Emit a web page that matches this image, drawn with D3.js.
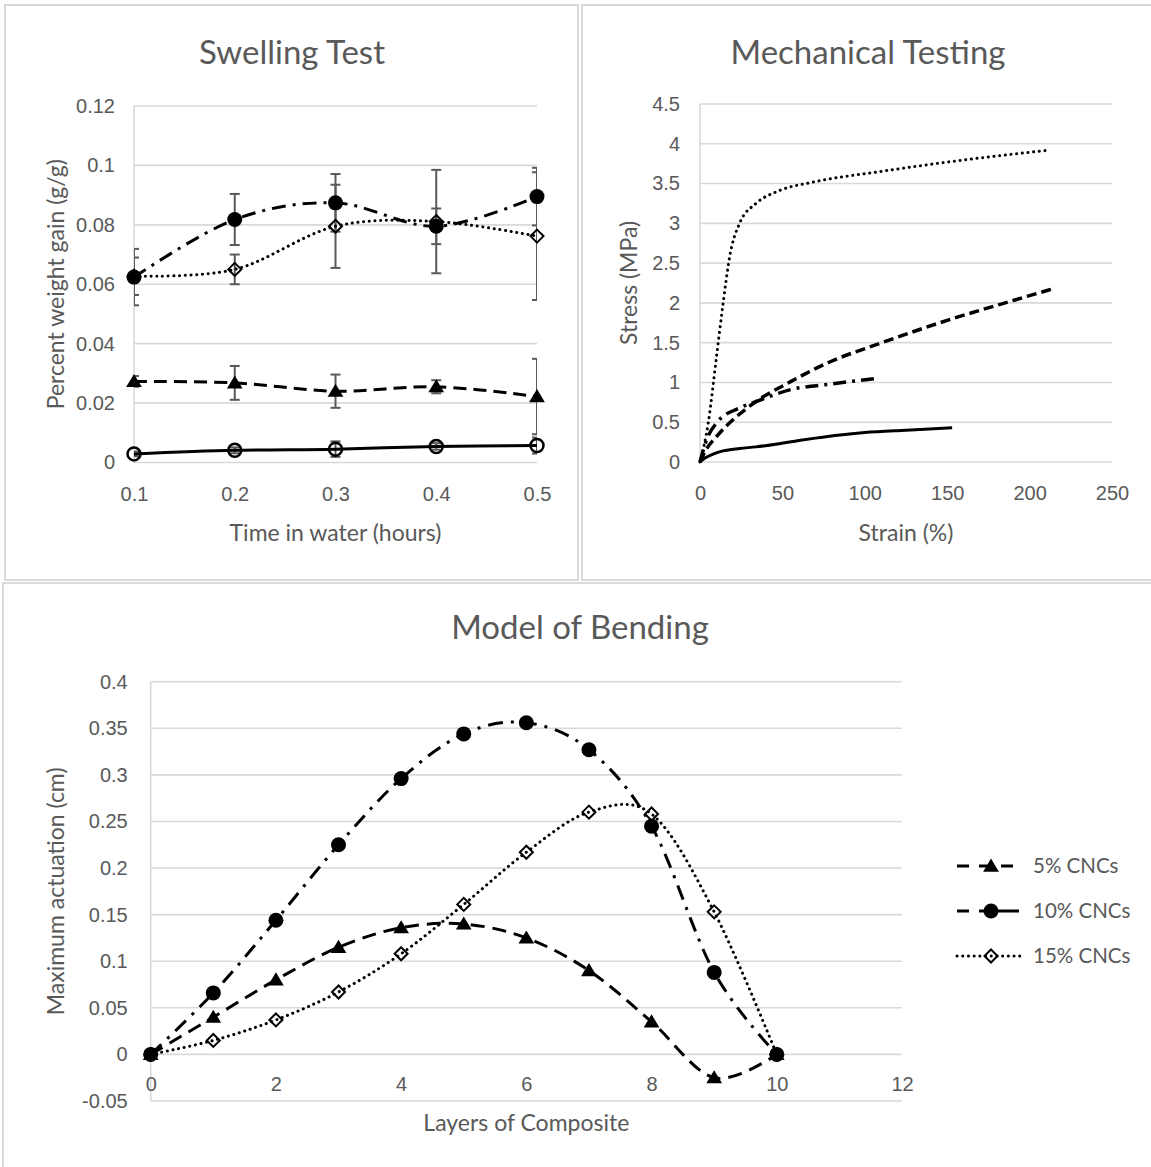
<html>
<head>
  <meta charset="UTF-8">
  <title>Swelling, Mechanical Testing, Model of Bending</title>
  <style>
    body { margin: 0; padding: 0; background: #fff; }
    svg { display: block; font-family: Lato, "Open Sans", sans-serif; }
    .tick-label { fill: #595959; font-size: 20px; }
    .axis-title { fill: #595959; font-size: 23px; }
    .chart-title { fill: #595959; font-size: 33px; }
    .legend-label { fill: #595959; font-size: 20.5px; }
  </style>
</head>
<body>
  <script src="https://cdnjs.cloudflare.com/ajax/libs/d3/7.8.4/d3.min.js"></script>
  <script>
    // ---- data: swelling test ----
    const swellTime = [0.1, 0.2, 0.3, 0.4, 0.5];
    const swellCircle = [0.0624, 0.0818, 0.0874, 0.0795, 0.0895];
    const swellCircleErr = [0.0095, 0.0086, 0.0097, 0.006, 0.0097];
    const swellDiamond = [0.0627, 0.065, 0.0795, 0.0811, 0.0762];
    const swellDiamondErr = [0.0063, 0.005, 0.014, 0.0174, 0.0215];
    const swellTriangle = [0.0273, 0.0268, 0.024, 0.0255, 0.0222];
    const swellTriangleErr = [0.0018, 0.0057, 0.0056, 0.0022, 0.0127];
    const swellOpen = [0.0029, 0.0041, 0.0045, 0.0054, 0.0057];
    const swellOpenErr = [0.0008, 0.001, 0.0026, 0.0011, 0.0027];
    const swellXTicks = [0.1, 0.2, 0.3, 0.4, 0.5];
    const swellYTicks = [0, 0.02, 0.04, 0.06, 0.08, 0.1, 0.12];

    // ---- data: mechanical testing (strain %, stress MPa) ----
    const mechDotted = [[0, 0], [5, 0.49], [10, 1.32], [14, 1.99], [18, 2.58], [24, 3.0], [34, 3.25],
      [48, 3.41], [69, 3.52], [109, 3.65], [150, 3.77], [190, 3.87], [212, 3.92]];
    const mechDashed = [[0, 0], [3, 0.13], [10, 0.32], [20, 0.53], [34, 0.76], [55, 1.01], [79, 1.26],
      [109, 1.49], [150, 1.78], [190, 2.03], [213, 2.17]];
    const mechDashDot = [[0, 0], [4, 0.28], [10, 0.49], [24, 0.68], [34, 0.76], [55, 0.91], [79, 0.98], [107, 1.05]];
    const mechSolid = [[0, 0], [3, 0.05], [8, 0.1], [14, 0.14], [24, 0.17], [34, 0.19], [48, 0.23], [60, 0.27],
      [70, 0.3], [85, 0.34], [100, 0.37], [125, 0.4], [153, 0.43]];
    const mechXTicks = [0, 50, 100, 150, 200, 250];
    const mechYTicks = [0, 0.5, 1, 1.5, 2, 2.5, 3, 3.5, 4, 4.5];

    // ---- data: model of bending ----
    const layers = [0, 1, 2, 3, 4, 5, 6, 7, 8, 9, 10];
    const bend5 = [0, 0.04, 0.08, 0.115, 0.136, 0.14, 0.125, 0.09, 0.035, -0.025, 0];
    const bend10 = [0, 0.066, 0.144, 0.225, 0.296, 0.344, 0.356, 0.327, 0.245, 0.088, 0];
    const bend15 = [0, 0.015, 0.037, 0.067, 0.108, 0.161, 0.217, 0.26, 0.258, 0.153, 0];
    const bendNames = ["5% CNCs", "10% CNCs", "15% CNCs"];
    const bendXTicks = [0, 2, 4, 6, 8, 10, 12];
    const bendYTicks = [-0.05, 0, 0.05, 0.1, 0.15, 0.2, 0.25, 0.3, 0.35, 0.4];

    const gridColor = "#d9d9d9";
    const textColor = "#595959";
    const dotted = "0.1 5.6";

    const svg = d3.select("body").append("svg")
      .attr("width", 1151)
      .attr("height", 1167);

    // panel borders
    [[5, 5, 573, 575], [582, 5, 572, 575], [3, 583, 1150, 590]].forEach(b => {
      svg.append("rect")
        .attr("x", b[0]).attr("y", b[1]).attr("width", b[2]).attr("height", b[3])
        .attr("fill", "none").attr("stroke", gridColor).attr("stroke-width", 2);
    });

    function triangle(s) {
      return `M0,${-s} L${s * 1.05},${s * 0.75} L${-s * 1.05},${s * 0.75}Z`;
    }
    function diamond(s) {
      return `M0,${-s} L${s},0 L0,${s} L${-s},0Z`;
    }

    // common frame: gridlines, axes, tick labels, titles
    function frame(cfg) {
      const g = svg.append("g");
      const x = cfg.x, y = cfg.y;
      const [x0, x1] = x.range();
      g.selectAll("line.grid")
        .data(cfg.yTicks)
        .enter().append("line")
        .attr("class", "grid")
        .attr("x1", x0).attr("x2", x1)
        .attr("y1", d => y(d)).attr("y2", d => y(d))
        .attr("stroke", gridColor).attr("stroke-width", 1.6);
      g.append("line")
        .attr("x1", x0).attr("x2", x0)
        .attr("y1", y.range()[0]).attr("y2", y.range()[1])
        .attr("stroke", gridColor).attr("stroke-width", 1.6);

      const yAxis = d3.axisLeft(y).tickValues(cfg.yTicks).tickSize(0).tickPadding(cfg.yPad)
        .tickFormat(cfg.yFormat || (d => d));
      const ya = g.append("g").attr("transform", `translate(${x0},0)`).call(yAxis);
      ya.select(".domain").remove();
      ya.selectAll("text").attr("class", "tick-label").attr("font-family", null).attr("font-size", null);

      const xAxis = d3.axisBottom(x).tickValues(cfg.xTicks).tickSize(0).tickPadding(cfg.xPad)
        .tickFormat(d => d);
      const xa = g.append("g").attr("transform", `translate(0,${cfg.xAxisY})`).call(xAxis);
      xa.select(".domain").remove();
      xa.selectAll("text").attr("class", "tick-label").attr("font-family", null).attr("font-size", null);

      svg.append("text").attr("class", "chart-title")
        .attr("x", cfg.titleX).attr("y", cfg.titleY)
        .attr("text-anchor", "middle").text(cfg.title);
      svg.append("text").attr("class", "axis-title")
        .attr("x", (x0 + x1) / 2).attr("y", cfg.xTitleY)
        .attr("text-anchor", "middle").text(cfg.xTitle);
      svg.append("text").attr("class", "axis-title")
        .attr("transform", `translate(${cfg.yTitleX},${(y.range()[0] + y.range()[1]) / 2}) rotate(-90)`)
        .attr("text-anchor", "middle").text(cfg.yTitle);
      return g;
    }

    function drawLine(g, pts, curve, dash, width) {
      g.append("path")
        .datum(pts)
        .attr("d", d3.line().x(d => d[0]).y(d => d[1]).curve(curve))
        .attr("fill", "none")
        .attr("stroke", "#000")
        .attr("stroke-width", width)
        .attr("stroke-linecap", dash === dotted ? "round" : "butt")
        .attr("stroke-dasharray", dash);
    }

    function drawMarkers(g, pts, kind) {
      const sel = g.selectAll(null).data(pts).enter();
      if (kind === "circle") {
        sel.append("circle").attr("cx", d => d[0]).attr("cy", d => d[1]).attr("r", 7.5).attr("fill", "#000");
      } else if (kind === "open") {
        sel.append("circle").attr("cx", d => d[0]).attr("cy", d => d[1]).attr("r", 6.5)
          .attr("fill", "none").attr("stroke", "#000").attr("stroke-width", 2.5);
      } else if (kind === "triangle") {
        sel.append("path").attr("d", triangle(7.5)).attr("transform", d => `translate(${d[0]},${d[1]})`).attr("fill", "#000");
      } else if (kind === "diamond") {
        sel.append("path").attr("d", diamond(6.5)).attr("transform", d => `translate(${d[0]},${d[1]})`)
          .attr("fill", "none").attr("stroke", "#000").attr("stroke-width", 2);
      }
    }

    // ================= Swelling Test =================
    const sx = d3.scaleLinear().domain([0.1, 0.5]).range([134, 537]);
    const sy = d3.scaleLinear().domain([0, 0.12]).range([462.5, 106]);
    const sg = frame({
      x: sx, y: sy, xTicks: swellXTicks, yTicks: swellYTicks, xAxisY: sy(0), xPad: 24, yPad: 19,
      title: "Swelling Test", titleX: 292, titleY: 64,
      xTitle: "Time in water (hours)", xTitleY: 541,
      yTitle: "Percent weight gain (g/g)", yTitleX: 64
    });

    svg.append("clipPath").attr("id", "swellClip")
      .append("rect").attr("x", 134).attr("y", 0).attr("width", 403).attr("height", 580);
    const errG = sg.append("g").attr("clip-path", "url(#swellClip)");
    const swellSeries = [
      { v: swellCircle, e: swellCircleErr, kind: "circle", dash: "14 7 3 7" },
      { v: swellDiamond, e: swellDiamondErr, kind: "diamond", dash: dotted },
      { v: swellTriangle, e: swellTriangleErr, kind: "triangle", dash: "13 7" },
      { v: swellOpen, e: swellOpenErr, kind: "open", dash: null }
    ];
    swellSeries.forEach(s => {
      s.v.forEach((v, i) => {
        const cx = sx(swellTime[i]);
        const top = sy(v + s.e[i]), bot = sy(v - s.e[i]);
        errG.append("line").attr("x1", cx).attr("x2", cx).attr("y1", top).attr("y2", bot)
          .attr("stroke", textColor).attr("stroke-width", 2);
        [top, bot].forEach(yy => {
          errG.append("line").attr("x1", cx - 5).attr("x2", cx + 5).attr("y1", yy).attr("y2", yy)
            .attr("stroke", textColor).attr("stroke-width", 2);
        });
      });
    });
    swellSeries.forEach(s => {
      const pts = s.v.map((v, i) => [sx(swellTime[i]), sy(v)]);
      drawLine(sg, pts, d3.curveCardinal.tension(0), s.dash, 3);
      drawMarkers(sg, pts, s.kind);
    });

    // ================= Mechanical Testing =================
    const mx = d3.scaleLinear().domain([0, 250]).range([700, 1112]);
    const my = d3.scaleLinear().domain([0, 4.5]).range([462, 104]);
    const mg = frame({
      x: mx, y: my, xTicks: mechXTicks, yTicks: mechYTicks, xAxisY: my(0), xPad: 24, yPad: 20,
      title: "Mechanical Testing", titleX: 868, titleY: 64,
      xTitle: "Strain (%)", xTitleY: 541,
      yTitle: "Stress (MPa)", yTitleX: 637
    });
    [[mechDotted, dotted, 3], [mechDashed, "10 5", 3.5], [mechDashDot, "13 6 3 6", 3.5], [mechSolid, null, 3]]
      .forEach(c => {
        drawLine(mg, c[0].map(d => [mx(d[0]), my(d[1])]), d3.curveMonotoneX, c[1], c[2]);
      });

    // ================= Model of Bending =================
    const bx = d3.scaleLinear().domain([0, 12]).range([150.7, 902]);
    const by = d3.scaleLinear().domain([-0.05, 0.4]).range([1101, 681.7]);
    const bg = frame({
      x: bx, y: by, xTicks: bendXTicks, yTicks: bendYTicks, xAxisY: by(0), xPad: 22, yPad: 23,
      yFormat: d => String(+d.toFixed(2)),
      title: "Model of Bending", titleX: 580, titleY: 639,
      xTitle: "Layers of Composite", xTitleY: 1131,
      yTitle: "Maximum actuation (cm)", yTitleX: 64
    });
    const bendSeries = [
      { v: bend5, kind: "triangle", dash: "14 8" },
      { v: bend10, kind: "circle", dash: "15 8 3 8" },
      { v: bend15, kind: "diamond", dash: dotted }
    ];
    bendSeries.forEach(s => {
      const pts = s.v.map((v, i) => [bx(layers[i]), by(v)]);
      drawLine(bg, pts, d3.curveCardinal.tension(0), s.dash, 3);
      drawMarkers(bg, pts, s.kind);
    });

    // legend
    const legendDash = ["12 10", "12 10 40", dotted];
    bendSeries.forEach((s, i) => {
      const ly = 866 + i * 45;
      const lg = svg.append("g");
      drawLine(lg, [[957, ly], [1023, ly]], d3.curveLinear, legendDash[i], 3);
      drawMarkers(lg, [[991, ly]], s.kind);
      lg.append("text").attr("class", "legend-label")
        .attr("x", 1033).attr("y", ly + 7).text(bendNames[i]);
    });
  </script>
</body>
</html>
